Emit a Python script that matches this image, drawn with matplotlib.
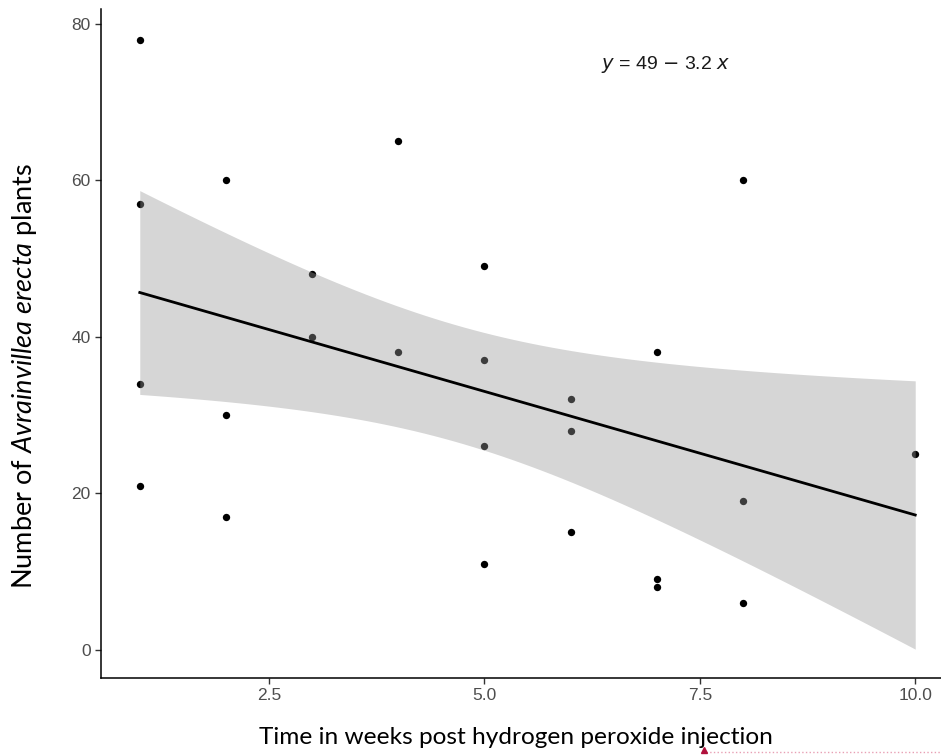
import matplotlib

matplotlib.use("Agg")
import matplotlib.pyplot as plt
import numpy as np

# Datenpunkte
weeks = [1, 1, 1, 1, 2, 2, 2, 3, 3, 4, 4, 5, 5, 5, 5, 6, 6, 6, 7, 7, 7, 8, 8, 8, 10]
plants = [78, 57, 34, 21, 60, 30, 17, 48, 40, 65, 38, 49, 37, 26, 11, 32, 28, 15,
          38, 9, 8, 60, 19, 6, 25]
x_ticks = [2.5, 5.0, 7.5, 10.0]
y_ticks = [0, 20, 40, 60, 80]
equation = r"$y$ = 49 $-$ 3.2 $x$"

T_975_DF23 = 2.0687  # t-Quantil für 95 %-Band

x = np.array(weeks, dtype=float)
y = np.array(plants, dtype=float)
slope, intercept = np.polyfit(x, y, 1)
resid = y - (intercept + slope * x)
n = len(x)
s = np.sqrt(np.sum(resid ** 2) / (n - 2))
sxx = np.sum((x - x.mean()) ** 2)
xs = np.linspace(x.min(), x.max(), 80)
fit = intercept + slope * xs
half = T_975_DF23 * s * np.sqrt(1 / n + (xs - x.mean()) ** 2 / sxx)

plt.rcParams["mathtext.fontset"] = "custom"
plt.rcParams["mathtext.rm"] = "Lato"
plt.rcParams["mathtext.it"] = "Lato:italic"

fig = plt.figure(figsize=(9.41, 7.55), dpi=100)
ax = fig.add_axes([101 / 941, 77 / 755, 853 / 941, 669 / 755])

ax.scatter(x, y, s=28, color="black", zorder=2, linewidths=0)
ax.fill_between(xs, fit - half, fit + half, color="#999999", alpha=0.4,
                linewidth=0, zorder=3)
ax.plot(xs, fit, color="black", linewidth=2, zorder=4)

ax.set_xlim(0.55, 10.45)
ax.set_ylim(-3.6, 81.9)
ax.set_xticks(x_ticks)
ax.set_xticklabels([f"{t:.1f}" for t in x_ticks])
ax.set_yticks(y_ticks)

for side in ("top", "right"):
    ax.spines[side].set_visible(False)
for side in ("left", "bottom"):
    ax.spines[side].set_linewidth(1.1)
ax.tick_params(length=4.5, width=1, color="#333333", labelcolor="#4D4D4D",
               labelsize=12.5, pad=3)
for lab in ax.get_xticklabels() + ax.get_yticklabels():
    lab.set_family("Liberation Sans")

ax.text(7.1, 74.8, equation, ha="center", va="center", fontsize=14,
        family="Liberation Sans", math_fontfamily="dejavusans", color="#1A1A1A")

fig.text(516 / 941, 1 - 738 / 755, "Time in weeks post hydrogen peroxide injection",
         ha="center", va="center", fontsize=17.6, family="Lato")
fig.text(25 / 941, 1 - 376 / 755, r"Number of $\mathit{Avrainvillea\ erecta}$ plants",
         ha="center", va="center", rotation=90, fontsize=19.5, family="Lato")

# Kommentar-Markierung aus dem Quelldokument
fig.lines.append(plt.Line2D([706 / 941, 1.0], [1 - 752 / 755] * 2, transform=fig.transFigure,
                            color="#E8A0B4", linewidth=1, linestyle=":"))
fig.lines.append(plt.Line2D([704 / 941], [1 - 750 / 755], transform=fig.transFigure,
                            marker="^", markersize=5, color="#B0103C", linestyle="none"))

fig.savefig("out.png", dpi=100)
